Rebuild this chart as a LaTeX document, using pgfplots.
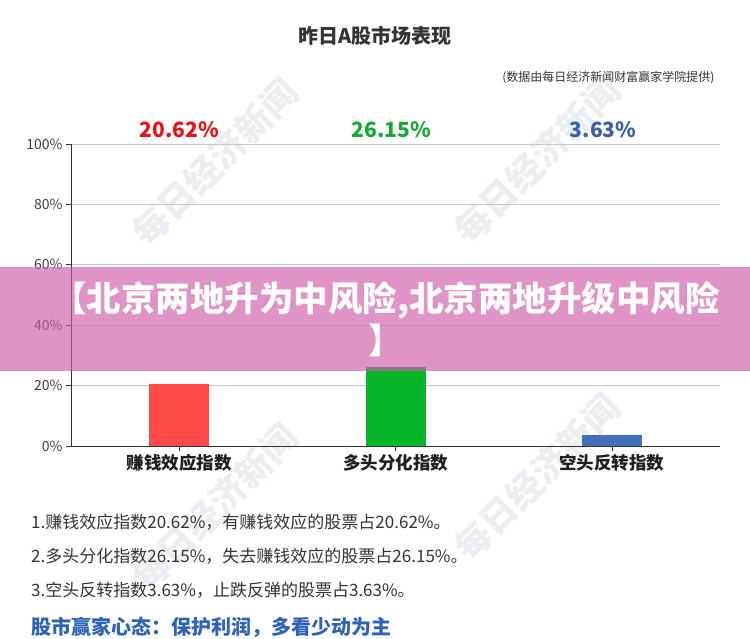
\documentclass[border=0pt]{standalone}
\usepackage{fontspec}
\usepackage{pgfplots}
\pgfplotsset{compat=1.18}
\setmainfont{Noto Sans CJK SC}
\definecolor{barred}{RGB}{255,74,74}
\definecolor{bargreen}{RGB}{8,181,42}
\definecolor{barblue}{RGB}{66,112,184}
\definecolor{labred}{RGB}{232,18,22}
\definecolor{labgreen}{RGB}{22,170,52}
\definecolor{labblue}{RGB}{58,96,166}
\definecolor{bluetext}{RGB}{46,98,184}
\definecolor{overlaypink}{RGB}{207,90,170}
\definecolor{wm}{RGB}{90,125,185}
\definecolor{txt}{RGB}{51,51,51}
\begin{document}
\begin{tikzpicture}[x=1pt,y=1pt]
\useasboundingbox (0pt,0pt) rectangle (750pt,638pt);
\fill[white] (0pt,0pt) rectangle (750pt,638pt);
% watermarks
\node[rotate=45, font=\bfseries\fontsize{36}{40}\selectfont, text=wm, opacity=0.13] at (215pt,476pt) {每日经济新闻};
\node[rotate=45, font=\bfseries\fontsize{36}{40}\selectfont, text=wm, opacity=0.13] at (537pt,478pt) {每日经济新闻};
\node[rotate=45, font=\bfseries\fontsize{36}{40}\selectfont, text=wm, opacity=0.13] at (215pt,131pt) {每日经济新闻};
\node[rotate=45, font=\bfseries\fontsize{36}{40}\selectfont, text=wm, opacity=0.13] at (537pt,161pt) {每日经济新闻};
% title
\node[font=\bfseries\fontsize{20}{24}\selectfont, text=txt] at (375pt,602pt) {昨日A股市场表现};
\node[anchor=east, font=\fontsize{12}{14}\selectfont, text=txt] at (718pt,560pt) {(数据由每日经济新闻财富赢家学院提供)};
\begin{axis}[
  at={(71pt,192pt)}, anchor=south west,
  width=649pt, height=302pt, scale only axis,
  xmin=-0.5, xmax=2.5, ymin=0, ymax=100,
  axis x line*=bottom, axis y line*=left,
  axis line style={-, draw=black!80, line width=0.8pt},
  ytick={0,20,...,100},
  yticklabel={\pgfmathprintnumber{\tick}\%},
  xtick={0,1,2},
  xticklabels={赚钱效应指数,多头分化指数,空头反转指数},
  ymajorgrids,
  grid style={draw=black!22, line width=0.7pt},
  tick align=outside, major tick length=5pt,
  tick style={draw=black!80, line width=0.6pt},
  xticklabel style={font=\bfseries\fontsize{17.5}{20}\selectfont, text=black!88},
  yticklabel style={font=\fontsize{14}{16}\selectfont, text=black!75},
  /pgf/number format/assume math mode=true,
  clip=false,
  ybar, bar width=60pt, bar shift=0pt,
]
\addplot[fill=barred, draw=none] coordinates {(0,20.62)};
\addplot[fill=bargreen, draw=none] coordinates {(1,26.15)};
\addplot[fill=barblue, draw=none] coordinates {(2,3.63)};
\node[text=labred, font=\bfseries\fontsize{21}{26}\selectfont] at (axis cs:0,104.6) {20.62\%};
\node[text=labgreen, font=\bfseries\fontsize{21}{26}\selectfont] at (axis cs:0.98,104.6) {26.15\%};
\node[text=labblue, font=\bfseries\fontsize{21}{26}\selectfont] at (axis cs:1.96,104.6) {3.63\%};
\end{axis}
% overlay banner
\fill[overlaypink, opacity=0.65] (0pt,267pt) rectangle (750pt,371pt);
\node[align=center, text=white, font=\bfseries\fontsize{34.5}{42}\selectfont] at (386pt,319pt) {【北京两地升为中风险,北京两地升级中风险\\】};
% text lines
\node[anchor=west, font=\fontsize{17}{18}\selectfont, text=txt, inner sep=0pt] at (31pt,116pt) {1.赚钱效应指数20.62\%，有赚钱效应的股票占20.62\%。};
\node[anchor=west, font=\fontsize{17}{18}\selectfont, text=txt, inner sep=0pt] at (31pt,82pt) {2.多头分化指数26.15\%，失去赚钱效应的股票占26.15\%。};
\node[anchor=west, font=\fontsize{17}{18}\selectfont, text=txt, inner sep=0pt] at (31pt,48pt) {3.空头反转指数3.63\%，止跌反弹的股票占3.63\%。};
\node[anchor=west, font=\bfseries\fontsize{20}{22}\selectfont, text=bluetext, inner sep=0pt] at (31pt,11pt) {股市赢家心态：保护利润，多看少动为主};
\end{tikzpicture}
\end{document}
